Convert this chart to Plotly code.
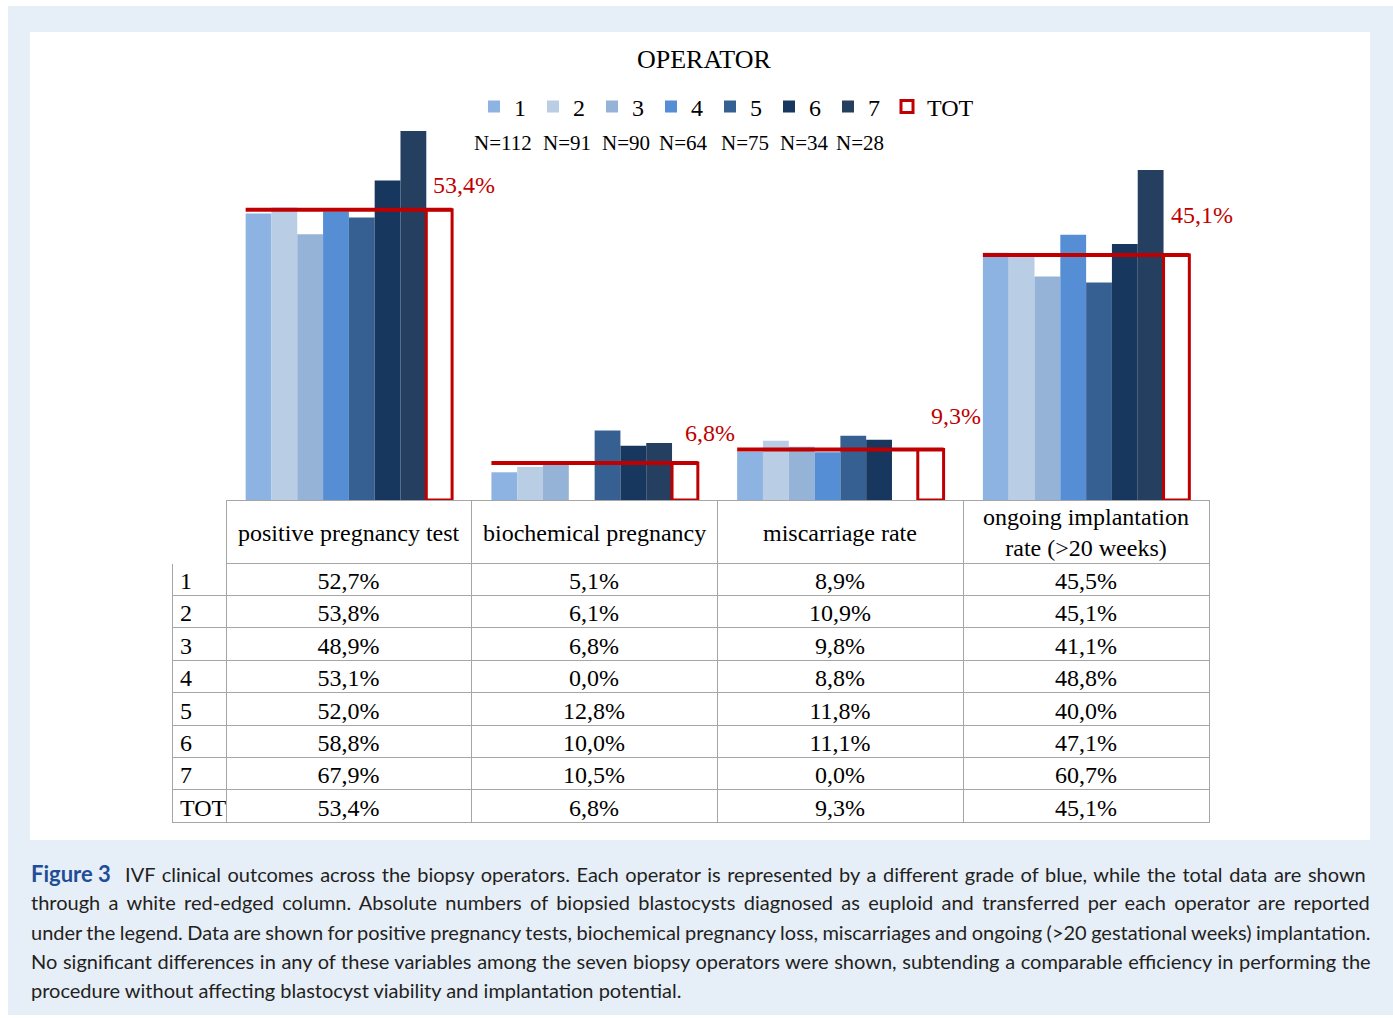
import plotly.graph_objects as go

# ---------------- data ----------------
categories = ["positive pregnancy test", "biochemical pregnancy", "miscarriage rate",
              "ongoing implantation<br>rate (>20 weeks)"]
operators = ["1", "2", "3", "4", "5", "6", "7"]
n_counts = [112, 91, 90, 64, 75, 34, 28]
op1 = [52.7, 5.1, 8.9, 45.5]
op2 = [53.8, 6.1, 10.9, 45.1]
op3 = [48.9, 6.8, 9.8, 41.1]
op4 = [53.1, 0.0, 8.8, 48.8]
op5 = [52.0, 12.8, 11.8, 40.0]
op6 = [58.8, 10.0, 11.1, 47.1]
op7 = [67.9, 10.5, 0.0, 60.7]
tot = [53.4, 6.8, 9.3, 45.1]
op_values = [op1, op2, op3, op4, op5, op6, op7]

caption_lines = [
    "IVF clinical outcomes across the biopsy operators. Each operator is represented by a different grade of blue, while the total data are shown",
    "through a white red-edged column. Absolute numbers of biopsied blastocysts diagnosed as euploid and transferred per each operator are reported",
    "under the legend. Data are shown for positive pregnancy tests, biochemical pregnancy loss, miscarriages and ongoing (>20 gestational weeks) implantation.",
    "No significant differences in any of these variables among the seven biopsy operators were shown, subtending a comparable efficiency in performing the",
    "procedure without affecting blastocyst viability and implantation potential.",
]
caption_spacing = [1.5, 3.2, -0.7, 0.5, 0.0]

# ---------------- styles ----------------
W, H = 1393, 1018
def fx(px): return px / W
def fy(py): return 1 - py / H

colors = ["#8db3e2", "#b9cde5", "#95b3d7", "#558ed5", "#376092", "#17375e", "#243f60"]
RED = "#c00000"
SERIF = "Liberation Serif"
xs = list(range(len(categories)))

fig = go.Figure()
for name, vals, col in zip(operators, op_values, colors):
    fig.add_trace(go.Bar(x=xs, y=vals, name=name, marker=dict(color=col, line=dict(width=0)),
                         hoverinfo="skip"))
fig.add_trace(go.Bar(x=xs, y=tot, name="TOT", legendwidth=60,
                     marker=dict(color="white", line=dict(color=RED, width=3)), hoverinfo="skip"))

# red total lines across each group
half = (1 - 0.16) / 2
lx, ly = [], []
for i, t in zip(xs, tot):
    lx += [i - half, i + half, None]
    ly += [t, t, None]
fig.add_trace(go.Scatter(x=lx, y=ly, mode="lines", line=dict(color=RED, width=4),
                         showlegend=False, hoverinfo="skip"))

# data table
def fmt(v):
    return f"{v:.1f}%".replace(".", ",")
row_labels = operators + ["TOT"]
cols = [[fmt(op[c]) for op in op_values] + [fmt(tot[c])] for c in range(len(categories))]
grid = "#a6a6a6"
col_widths = [54, 245, 246, 246, 246]
tbl_left, tbl_top, head_h, row_h = 172, 500, 63, 32.4
fig.add_trace(go.Table(
    domain=dict(x=[fx(tbl_left), fx(tbl_left + sum(col_widths))], y=[fy(826), fy(tbl_top)]),
    columnwidth=col_widths,
    header=dict(values=[""] * (len(categories) + 1), height=head_h, fill_color="white",
                line=dict(color=["white"] + [grid] * 4, width=1)),
    cells=dict(values=[row_labels] + cols, height=row_h, fill_color="white",
               line=dict(color=grid, width=1),
               font=dict(family=SERIF, size=24, color="black"),
               align=["left", "center", "center", "center", "center"]),
))

annotations = []
# table header labels
edge = tbl_left + col_widths[0]
for cat, wdt in zip(categories, col_widths[1:]):
    annotations.append(dict(text=cat, x=fx(edge + wdt / 2), y=fy(tbl_top + head_h / 2 + 1),
                            xref="paper", yref="paper", xanchor="center", yanchor="middle",
                            showarrow=False, font=dict(family=SERIF, size=24, color="black")))
    edge += wdt

annotations.append(dict(text="OPERATOR", x=fx(704), y=fy(60), xref="paper", yref="paper",
                        xanchor="center", yanchor="middle",
                        showarrow=False, font=dict(family=SERIF, size=26, color="black")))
n_x = [503, 567, 626, 683, 745, 805, 860]
for n, px in zip(n_counts, n_x):
    annotations.append(dict(text=f"N={n}", x=fx(px), y=fy(143), xref="paper", yref="paper",
                            xanchor="center", yanchor="middle",
                            showarrow=False, font=dict(family=SERIF, size=21, color="black")))
label_shift = [25, 30, 33, 40]
for i, t, s in zip(xs, tot, label_shift):
    annotations.append(dict(text=fmt(t), x=i + 0.47, y=t, xref="x", yref="y", yshift=s,
                            xanchor="center", yanchor="middle",
                            showarrow=False, font=dict(family=SERIF, size=24, color=RED)))
for k, (line, sp) in enumerate(zip(caption_lines, caption_spacing)):
    txt = f"<span style='word-spacing:{sp}px'>{line}</span>"
    if k == 0:
        txt = ("<b><span style='color:#1f4e96;font-size:22px'>Figure 3</span></b>"
               "<span style='word-spacing:2px'>  </span>" + txt)
    annotations.append(dict(text=txt, x=fx(29), y=fy(873 + 29.3 * k), xref="paper", yref="paper",
                            xanchor="left", yanchor="middle", showarrow=False, align="left",
                            font=dict(family="Lato", size=20, color="#231f20")))

shapes = [
    dict(type="rect", xref="paper", yref="paper", x0=fx(8), x1=fx(1393), y0=fy(1015), y1=fy(6),
         fillcolor="#e6eef8", line=dict(width=0), layer="below"),
    dict(type="rect", xref="paper", yref="paper", x0=fx(30), x1=fx(1370), y0=fy(840), y1=fy(32),
         fillcolor="white", line=dict(width=0), layer="below"),
]

fig.update_layout(
    width=W, height=H, margin=dict(l=0, r=0, t=0, b=0),
    paper_bgcolor="white", plot_bgcolor="rgba(0,0,0,0)",
    barmode="group", bargap=0.16, bargroupgap=0,
    xaxis=dict(domain=[fx(226), fx(1209)], range=[-0.5, 3.5], showticklabels=False,
               showgrid=False, zeroline=False, showline=False, ticks=""),
    yaxis=dict(domain=[fy(500), fy(100)], range=[0, 400 / 5.435], visible=False),
    legend=dict(orientation="h", x=fx(474), y=fy(107), xanchor="left", yanchor="middle",
                entrywidth=14, itemwidth=30, bgcolor="rgba(0,0,0,0)",
                font=dict(family=SERIF, size=24, color="black")),
    annotations=annotations, shapes=shapes,
)
fig.write_html("out.html", config={"displayModeBar": False},
               post_script="document.body.style.margin='0';document.body.style.overflow='hidden';")
